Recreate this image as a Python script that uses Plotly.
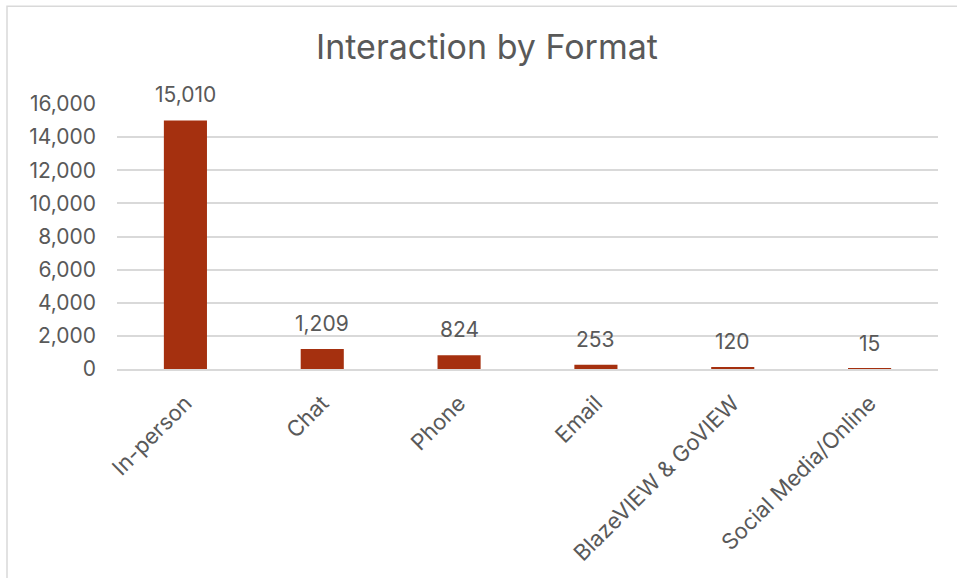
import plotly.graph_objects as go

# Interaction counts by format
formats = ["In-person", "Chat", "Phone", "Email", "BlazeVIEW & GoVIEW", "Social Media/Online"]
counts = [15010, 1209, 824, 253, 120, 15]

y_ticks = list(range(0, 16001, 2000))

BAR_COLOR = "#A5300F"
TEXT_COLOR = "#595959"
GRID_COLOR = "#D9D9D9"
FONT = "Inter, 'DejaVu Sans', sans-serif"

W, H = 957, 578
M_L, M_R, M_T, M_B = 117, 19, 104, 207
plot_w = W - M_L - M_R
plot_h = H - M_T - M_B

fig = go.Figure(
    go.Bar(
        x=formats,
        y=counts,
        marker=dict(color=BAR_COLOR, line=dict(width=0)),
        width=0.315,
        hoverinfo="x+y",
    )
)

# value labels above each bar
for f, v in zip(formats, counts):
    fig.add_annotation(
        x=f, y=v, text=f"{v:,}", showarrow=False,
        yanchor="bottom", yshift=11,
        font=dict(family=FONT, size=21, color=TEXT_COLOR),
    )

# chart-area border (top and left edges visible)
fig.add_shape(
    type="rect", xref="paper", yref="paper",
    x0=(7 - M_L) / plot_w, x1=1.08,
    y0=-1.0, y1=1 + (M_T - 5.5) / plot_h,
    line=dict(color=GRID_COLOR, width=1.5),
    fillcolor="rgba(0,0,0,0)", layer="below",
)

fig.update_layout(
    width=W, height=H,
    margin=dict(l=M_L, r=M_R, t=M_T, b=M_B, pad=0),
    paper_bgcolor="white", plot_bgcolor="white",
    showlegend=False,
    title=dict(
        text="Interaction by Format",
        x=487 / W, xanchor="center", xref="container",
        y=1 - 47 / H, yanchor="middle", yref="container",
        font=dict(family=FONT, size=34, color=TEXT_COLOR),
    ),
    xaxis=dict(
        tickangle=-45,
        tickfont=dict(family=FONT, size=22, color=TEXT_COLOR),
        showgrid=False,
        showline=True, linecolor=GRID_COLOR, linewidth=1.5,
        ticks="", ticklabelstandoff=11,
    ),
    yaxis=dict(
        range=[0, 16000],
        tickvals=y_ticks,
        tickformat=",",
        tickfont=dict(family=FONT, size=21, color=TEXT_COLOR),
        showgrid=True, gridcolor=GRID_COLOR, gridwidth=1.5,
        zeroline=False, showline=False,
        ticks="", ticklabelstandoff=20,
    ),
)

fig.write_html("out.html")
